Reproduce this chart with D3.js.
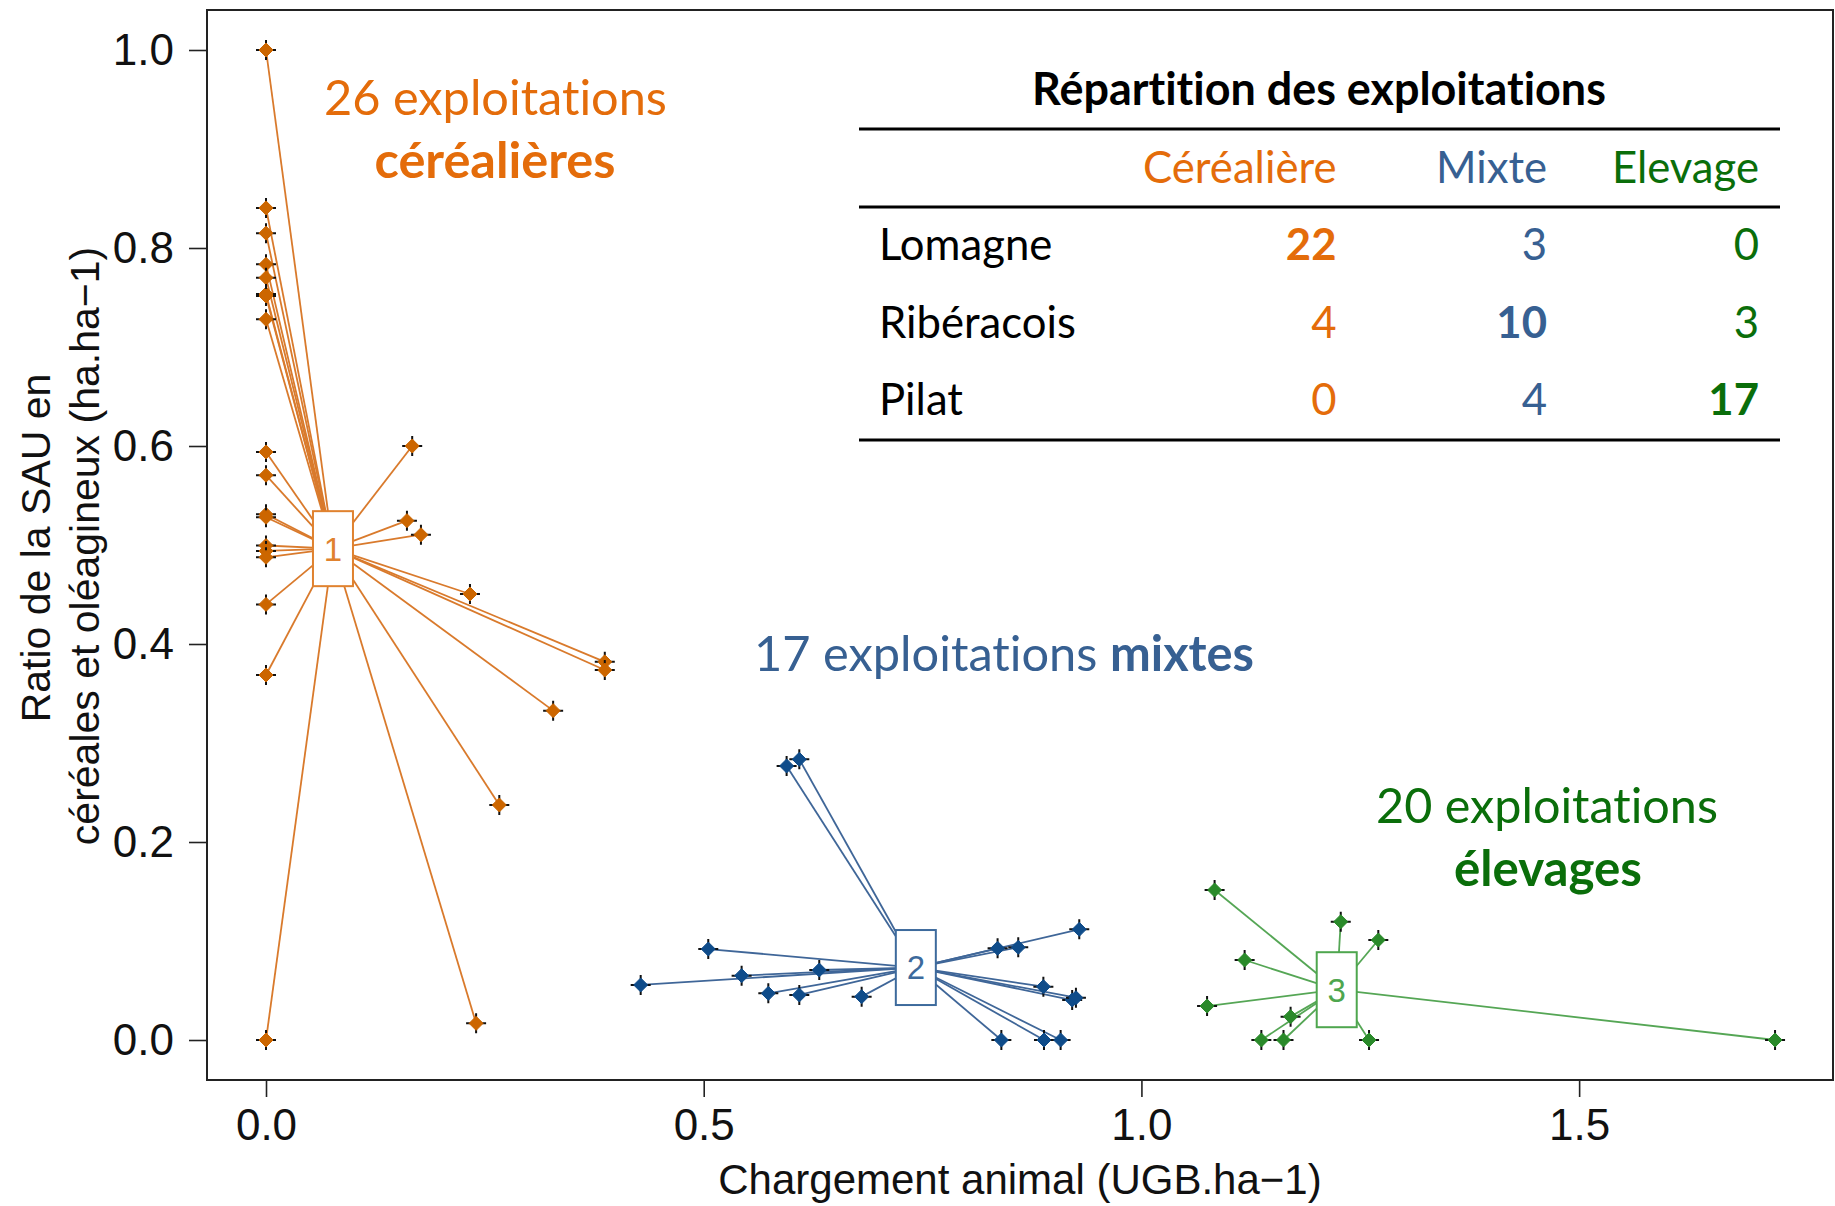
<!DOCTYPE html>
<html><head><meta charset="utf-8">
<script src="https://cdn.jsdelivr.net/npm/d3@7"></script>
<style>body{margin:0;background:#fff} text{font-variant-ligatures:none;font-feature-settings:"liga" 0}</style>
</head><body>
<svg id="c" width="1835" height="1206"></svg>
<script>
// ---------- data ----------
const xTicks = [0, 0.5, 1.0, 1.5];
const yTicks = [0, 0.2, 0.4, 0.6, 0.8, 1.0];

// cluster 1 : céréalières
const cerealX = [0,0,0,0,0,0,0,0,0,0,0,0,0,0,0,0,0,0, 0.167,0.161,0.177,0.233,0.387,0.387,0.328,0.2665,0.240];
const cerealY = [1.0,0.8405,0.815,0.7835,0.770,0.7535,0.7515,0.728,0.594,0.5705,0.531,0.528,0.4995,0.494,0.4876,0.440,0.3687,0.0, 0.600,0.5246,0.5104,0.4505,0.382,0.3737,0.3327,0.2374,0.0168];
// cluster 2 : mixtes
const mixteX = [0.5947,0.6092,0.5052,0.428,0.5433,0.632,0.5738,0.6092,0.6804,0.8357,0.8593,0.929,0.888,0.9209,0.9252,0.840,0.8887,0.9077];
const mixteY = [0.2768,0.2835,0.0919,0.0556,0.065,0.0707,0.0471,0.0455,0.0438,0.0926,0.0936,0.1118,0.0539,0.0404,0.0427,0.0,0.0,0.0];
// cluster 3 : élevages
const elevX = [1.0836,1.2277,1.2706,1.1179,1.075,1.1704,1.137,1.1623,1.26,1.7238];
const elevY = [0.1515,0.1195,0.101,0.0808,0.0343,0.0236,0.0,0.0,0.0,0.0];

const clusterLabels = ["1","2","3"];
const centerX = [0.0765, 0.7423, 1.2231];
const centerY = [0.4963, 0.0732, 0.0508];

const tableTitle = "Répartition des exploitations";
const tableCols = ["Céréalière","Mixte","Elevage"];
const tableRows = ["Lomagne","Ribéracois","Pilat"];
const cerealCounts = [22,4,0];
const mixteCounts = [3,10,4];
const elevCounts = [0,3,17];

// ---------- styles ----------
const ptCol   = ["#cc6600","#0f4c8a","#2a8a2a"];
const lineCol = ["#d97a2c","#3f6698","#55a655"];
const boxCol  = ["#e0822f","#3d6a9c","#4ea64e"];
const txtCol  = ["#e46c0a","#376092","#0a6e0a"];
const axisFont = "'Liberation Sans', Arial, Helvetica, sans-serif";
const annFont = "Lato, 'Open Sans', sans-serif";

const svg = d3.select('#c');
svg.append('rect').attr('width',1835).attr('height',1206).attr('fill','#fff');

const x = d3.scaleLinear().domain([-0.0674, 1.79]).range([207, 1833]);
const y = d3.scaleLinear().domain([-0.0404, 1.0404]).range([1080, 10]);

// box
svg.append('rect').attr('x',207).attr('y',10).attr('width',1626).attr('height',1070)
  .attr('fill','none').attr('stroke','#222').attr('stroke-width',2);

// axes
const ya = svg.append('g').attr('transform','translate(207,0)')
  .call(d3.axisLeft(y).tickValues(yTicks).tickFormat(d3.format('.1f')).tickSize(18).tickPadding(15));
const xa = svg.append('g').attr('transform','translate(0,1080)')
  .call(d3.axisBottom(x).tickValues(xTicks).tickFormat(d3.format('.1f')).tickSize(17).tickPadding(12));
[ya,xa].forEach(g=>{
  g.select('.domain').remove();
  g.selectAll('line').attr('stroke','#222').attr('stroke-width',1.6);
  g.selectAll('text').attr('font-family',axisFont).attr('font-size',44).attr('fill','#111');
});

// axis titles
svg.append('text').attr('x',1020).attr('y',1194).attr('text-anchor','middle')
  .attr('font-family',axisFont).attr('font-size',42).attr('fill','#111')
  .text('Chargement animal (UGB.ha\u22121)');
svg.append('text').attr('transform','translate(50,548) rotate(-90)').attr('text-anchor','middle')
  .attr('font-family',axisFont).attr('font-size',41).attr('fill','#111')
  .text('Ratio de la SAU en');
svg.append('text').attr('transform','translate(99,546) rotate(-90)').attr('text-anchor','middle')
  .attr('font-family',axisFont).attr('font-size',41).attr('fill','#111')
  .text('céréales et oléagineux (ha.ha\u22121)');

// clusters
const clusters = [[cerealX,cerealY],[mixteX,mixteY],[elevX,elevY]];
const gLines = svg.append('g'), gBoxes = svg.append('g'), gPts = svg.append('g');
clusters.forEach(([xs,ys],k)=>{
  const pts = xs.map((v,i)=>({x:v,y:ys[i]}));
  gLines.selectAll(null).data(pts).enter().append('line')
    .attr('x1',x(centerX[k])).attr('y1',y(centerY[k]))
    .attr('x2',d=>x(d.x)).attr('y2',d=>y(d.y))
    .attr('stroke',lineCol[k]).attr('stroke-width',1.8);
  const g = gPts.selectAll(null).data(pts).enter().append('g')
    .attr('transform',d=>`translate(${x(d.x)},${y(d.y)})`);
  g.append('path').attr('d','M-10,0H10M0,-10V10').attr('stroke','#111').attr('stroke-width',2);
  g.append('path').attr('d','M0,-7L7,0L0,7L-7,0Z').attr('fill',ptCol[k]).attr('stroke',ptCol[k]).attr('stroke-width',1);
  const cx = x(centerX[k]), cy = y(centerY[k]);
  gBoxes.append('rect').attr('x',cx-20).attr('y',cy-37.5).attr('width',40).attr('height',75)
    .attr('fill','#fff').attr('stroke',boxCol[k]).attr('stroke-width',2);
  gBoxes.append('text').attr('x',cx).attr('y',cy).attr('dy','0.36em').attr('text-anchor','middle')
    .attr('font-family',axisFont).attr('font-size',33).attr('fill',boxCol[k]).text(clusterLabels[k]);
});

// fit helper: adjust font-size so text width matches target
function fit(sel, target){
  const w = sel.node().getComputedTextLength();
  const fs = +sel.attr('font-size');
  sel.attr('font-size', fs*target/w);
  return sel;
}

// annotations
function ann(xp, yp, col, parts, target){
  const t = svg.append('text').attr('x',xp).attr('y',yp).attr('text-anchor','middle')
    .attr('font-family',annFont).attr('font-size',48).attr('fill',col);
  parts.forEach(([s,b])=>t.append('tspan').attr('font-weight',b?700:400).text(s));
  fit(t,target);
  return t;
}
ann(495.5,115,txtCol[0],[['26 exploitations',0]],343);
ann(495,178,txtCol[0],[['céréalières',1]],241);
ann(1004,671,txtCol[1],[['17 exploitations ',0],['mixtes',1]],500);
ann(1547,823,txtCol[2],[['20 exploitations',0]],342);
ann(1548,886,txtCol[2],[['élevages',1]],188);

// table
const colRight = [1336.5,1547,1759];
const rowBase = [260,338,415];
fit(svg.append('text').attr('x',1319).attr('y',105).attr('text-anchor','middle')
  .attr('font-family',annFont).attr('font-weight',700).attr('font-size',44).attr('fill','#000')
  .text(tableTitle), 574);
[129,207,440].forEach(yy=>svg.append('line').attr('x1',859).attr('x2',1780).attr('y1',yy).attr('y2',yy)
  .attr('stroke','#000').attr('stroke-width',3));
const probe = svg.append('text').attr('font-family',annFont).attr('font-size',42).text('Ribéracois');
const tfs = 42*197/probe.node().getComputedTextLength();
probe.remove();
tableCols.forEach((c,j)=>svg.append('text').attr('x',colRight[j]).attr('y',183).attr('text-anchor','end')
  .attr('font-family',annFont).attr('font-size',tfs).attr('fill',txtCol[j]).text(c));
const counts = [cerealCounts, mixteCounts, elevCounts];
tableRows.forEach((r,i)=>{
  svg.append('text').attr('x',879).attr('y',rowBase[i]).attr('font-family',annFont)
    .attr('font-size',tfs).attr('fill','#000').text(r);
  counts.forEach((arr,j)=>{
    const isMax = d3.max(counts.map(a=>a[i]))===arr[i];
    svg.append('text').attr('x',colRight[j]).attr('y',rowBase[i]).attr('text-anchor','end')
      .attr('font-family',annFont).attr('font-size',tfs).attr('font-weight',isMax?700:400)
      .attr('fill',txtCol[j]).text(arr[i]);
  });
});
</script>
</body></html>
